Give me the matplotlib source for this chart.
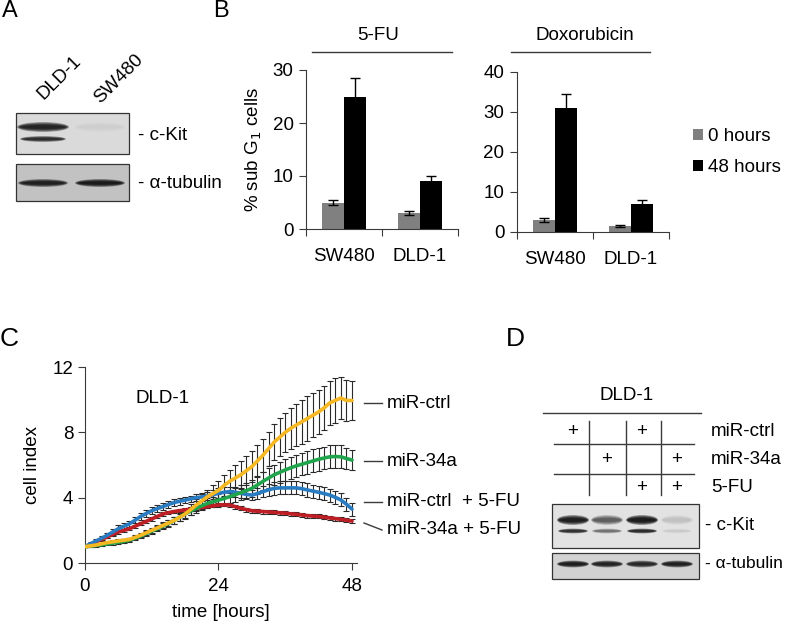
import numpy as np
import matplotlib
matplotlib.use('Agg')
from matplotlib import pyplot as plt
from matplotlib.patches import Rectangle, Ellipse

plt.rcParams['font.family'] = ['Liberation Sans', 'DejaVu Sans']
plt.rcParams['font.size'] = 13.5
FS = 13.5

W, H = 789, 628

## Panel B data (% sub G1 cells)
cells = ['SW480', 'DLD-1']
fu_0h = [5.0, 3.0]
fu_0h_err = [0.5, 0.4]
fu_48h = [25.0, 9.0]
fu_48h_err = [3.5, 1.0]
dox_0h = [3.0, 1.5]
dox_0h_err = [0.5, 0.3]
dox_48h = [31.0, 7.0]
dox_48h_err = [3.5, 1.0]

## Panel C data (cell index, hourly)
hours = list(range(49))
ctrl = [1.0, 1.05, 1.1, 1.18, 1.25, 1.3, 1.35, 1.4, 1.45, 1.57, 1.7, 1.85, 2.0, 2.15, 2.3, 2.45, 2.6,
        2.8, 3.0, 3.27, 3.55, 3.8, 4.05, 4.25, 4.45, 4.75, 5.0, 5.2, 5.4, 5.65, 5.9, 6.25, 6.6, 7.0,
        7.4, 7.7, 8.0, 8.25, 8.45, 8.65, 8.85, 9.05, 9.25, 9.5, 9.8, 9.95, 10.1, 9.95, 9.95]
ctrl_err = [0.05, 0.05, 0.06, 0.07, 0.08, 0.09, 0.1, 0.1, 0.11, 0.12, 0.13, 0.14, 0.15, 0.16, 0.18,
            0.2, 0.22, 0.25, 0.28, 0.32, 0.36, 0.4, 0.45, 0.5, 0.55, 0.62, 0.7, 0.78, 0.85, 0.9, 0.95,
            1.0, 1.0, 1.05, 1.1, 1.15, 1.2, 1.25, 1.3, 1.35, 1.35, 1.35, 1.35, 1.35, 1.35, 1.35, 1.3,
            1.25, 1.2]
mir34 = [1.0, 1.03, 1.07, 1.12, 1.17, 1.22, 1.27, 1.33, 1.4, 1.52, 1.65, 1.8, 1.95, 2.1, 2.25, 2.42,
         2.6, 2.8, 3.0, 3.18, 3.35, 3.5, 3.65, 3.75, 3.85, 3.95, 4.06, 4.18, 4.3, 4.43, 4.57, 4.78, 5.0,
         5.2, 5.4, 5.55, 5.7, 5.83, 5.95, 6.05, 6.15, 6.25, 6.35, 6.43, 6.5, 6.52, 6.5, 6.4, 6.3]
mir34_err = [0.05, 0.06, 0.07, 0.08, 0.09, 0.1, 0.1, 0.11, 0.12, 0.13, 0.14, 0.15, 0.16, 0.17, 0.18,
             0.19, 0.2, 0.21, 0.22, 0.24, 0.26, 0.28, 0.3, 0.32, 0.35, 0.38, 0.4, 0.42, 0.45, 0.48, 0.5,
             0.53, 0.56, 0.59, 0.62, 0.64, 0.65, 0.67, 0.68, 0.69, 0.7, 0.7, 0.7, 0.7, 0.7, 0.7, 0.7,
             0.65, 0.6]
ctrl_fu = [1.0, 1.18, 1.35, 1.52, 1.7, 1.9, 2.1, 2.25, 2.4, 2.62, 2.85, 3.03, 3.2, 3.33, 3.45, 3.58,
           3.7, 3.78, 3.85, 3.93, 4.0, 4.05, 4.1, 4.18, 4.27, 4.33, 4.37, 4.33, 4.27, 4.2, 4.16, 4.25,
           4.37, 4.48, 4.57, 4.6, 4.6, 4.6, 4.6, 4.55, 4.47, 4.4, 4.33, 4.25, 4.16, 4.02, 3.86, 3.6, 3.3]
ctrl_fu_err = [0.05, 0.1, 0.12, 0.14, 0.16, 0.18, 0.2, 0.2, 0.2, 0.2, 0.2, 0.2, 0.2, 0.2, 0.2, 0.2,
               0.2, 0.2, 0.2, 0.2, 0.22, 0.24, 0.26, 0.28, 0.3, 0.3, 0.3, 0.3, 0.3, 0.3, 0.3, 0.32, 0.34,
               0.36, 0.38, 0.4, 0.4, 0.4, 0.4, 0.4, 0.4, 0.4, 0.4, 0.4, 0.4, 0.4, 0.4, 0.4, 0.4]
mir34_fu = [1.0, 1.15, 1.3, 1.45, 1.6, 1.75, 1.9, 2.0, 2.1, 2.25, 2.4, 2.55, 2.7, 2.85, 3.0, 3.08,
            3.15, 3.2, 3.25, 3.3, 3.35, 3.4, 3.45, 3.5, 3.55, 3.56, 3.55, 3.45, 3.35, 3.27, 3.2, 3.17,
            3.15, 3.12, 3.1, 3.07, 3.05, 3.01, 2.98, 2.94, 2.9, 2.87, 2.85, 2.8, 2.76, 2.72, 2.67, 2.62,
            2.57]
mir34_fu_err = [0.05, 0.06, 0.07, 0.08, 0.08, 0.09, 0.1, 0.1, 0.1, 0.1, 0.1, 0.1, 0.1, 0.1, 0.1, 0.1,
                0.1, 0.1, 0.1, 0.1, 0.1, 0.1, 0.1, 0.1, 0.1, 0.1, 0.1, 0.12, 0.12, 0.12, 0.12, 0.12,
                0.12, 0.12, 0.12, 0.12, 0.12, 0.12, 0.12, 0.12, 0.12, 0.12, 0.12, 0.12, 0.12, 0.12,
                0.12, 0.12, 0.12]

## Blot band intensities (0 = none, 1 = black)
a_kit_upper = [0.85, 0.03]
a_kit_lower = [0.75, 0.0]
a_tub = [0.85, 0.9]
d_kit_upper = [0.92, 0.45, 0.95, 0.08]
d_kit_lower = [0.75, 0.35, 0.8, 0.05]
d_tub = [0.9, 0.85, 0.8, 0.88]
d_rows = ['miR-ctrl', 'miR-34a', '5-FU']
d_plus = [[1, 0, 1, 0], [0, 1, 0, 1], [0, 0, 1, 1]]


def box(x0, y0, x1, y1):
    return [x0 / W, 1 - y1 / H, (x1 - x0) / W, (y1 - y0) / H]


fig = plt.figure(figsize=(W / 100, H / 100), dpi=100)
ov = fig.add_axes([0, 0, 1, 1])
ov.set_xlim(0, W)
ov.set_ylim(H, 0)
ov.axis('off')

spine_col = '#3a3a3a'


def band(x, y, w, h, val):
    # soft band: stacked ellipses
    if val <= 0:
        return
    for k in range(6):
        f = 1 - k * 0.13
        ov.add_patch(Ellipse((x, y), w * (0.8 + 0.2 * f), h * f, facecolor='black',
                             edgecolor='none', alpha=val * 0.3, zorder=3))


def blot(x0, y0, x1, y1, bg):
    ov.add_patch(Rectangle((x0, y0), x1 - x0, y1 - y0, facecolor=bg, edgecolor='#333333',
                           lw=0.9, zorder=2))


## ---------- Panel A ----------
ov.text(2, 11, 'A', fontsize=17, va='center', ha='left')
ov.text(44, 100, 'DLD-1', rotation=45, rotation_mode='anchor', ha='left', va='baseline')
ov.text(100, 104, 'SW480', rotation=45, rotation_mode='anchor', ha='left', va='baseline')
blot(16, 113, 129, 154, '#dadada')
lanes_a = [43, 100]
for i, x in enumerate(lanes_a):
    band(x, 127, 52, 10, a_kit_upper[i])
    band(x, 139, 46, 6, a_kit_lower[i])
blot(16, 164, 129, 201, '#c2c2c2')
for i, x in enumerate(lanes_a):
    band(x, 183, 50, 8, a_tub[i])
ov.text(138, 136, '- c-Kit', va='center')
ov.text(138, 184, '- α-tubulin', va='center')

## ---------- Panel B ----------
ov.text(213, 11, 'B', fontsize=17, va='center', ha='left')
ov.text(378, 35, '5-FU', ha='center', va='center')
ov.plot([312, 452], [52, 52], color=spine_col, lw=1)
ov.text(585, 35, 'Doxorubicin', ha='center', va='center')
ov.plot([511, 650], [52, 52], color=spine_col, lw=1)

bw = 0.29
x = np.arange(len(cells))


def bar_panel(rect, top, v0, e0, v48, e48, ticks):
    ax = fig.add_axes(rect)
    ax.set_facecolor('none')
    h0 = ax.bar(x - bw / 2, v0, bw, color='#808080', zorder=2)
    h48 = ax.bar(x + bw / 2, v48, bw, color='black', zorder=2)
    ax.errorbar(x - bw / 2, v0, yerr=e0, fmt='none', ecolor='black', elinewidth=1, capsize=3.5, zorder=3)
    ax.errorbar(x + bw / 2, v48, yerr=e48, fmt='none', ecolor='black', elinewidth=1, capsize=3.5, zorder=1)
    ax.set_xlim(-0.5, 1.5)
    ax.set_ylim(0, top)
    ax.set_yticks(ticks)
    ax.set_xticks([-0.5, 0.5, 1.5])
    ax.set_xticklabels([])
    ax.set_xticks(x, minor=True)
    ax.set_xticklabels(cells, minor=True)
    ax.tick_params(axis='x', which='minor', length=0, pad=14, labelsize=FS)
    ax.tick_params(axis='x', which='major', length=5, color=spine_col)
    ax.tick_params(axis='y', length=5, color=spine_col, labelsize=FS, pad=4)
    for s in ['top', 'right']:
        ax.spines[s].set_visible(False)
    for s in ['left', 'bottom']:
        ax.spines[s].set_color(spine_col)
    return ax, h0, h48


ax1, h0, h48 = bar_panel(box(306, 70, 458, 229), 30, fu_0h, fu_0h_err, fu_48h, fu_48h_err, [0, 10, 20, 30])
ax1.set_ylabel('% sub G$_1$ cells', fontsize=FS, labelpad=6)
ax2, _, _ = bar_panel(box(517, 72, 669, 232), 40, dox_0h, dox_0h_err, dox_48h, dox_48h_err, [0, 10, 20, 30, 40])
fig.legend([h0, h48], ['0 hours', '48 hours'], loc='center left',
           bbox_to_anchor=(693 / W, 1 - 152 / H), frameon=False, fontsize=FS, borderpad=0,
           borderaxespad=0, handlelength=0.55, handleheight=0.55, handletextpad=0.25,
           labelspacing=0.75)

## ---------- Panel C ----------
ov.text(0, 339, 'C', fontsize=19, va='center', ha='left')
axc = fig.add_axes(box(85, 367, 357, 563))
axc.set_facecolor('none')
series = [
    (mir34_fu, mir34_fu_err, '#bf1e24'),
    (ctrl_fu, ctrl_fu_err, '#2a7cc2'),
    (mir34, mir34_err, '#20a44c'),
    (ctrl, ctrl_err, '#f6b822'),
]
for vals, errs, col in series:
    axc.errorbar(hours, vals, yerr=errs, fmt='none', ecolor='#2a2a2a', elinewidth=0.8,
                 capsize=2.2, capthick=0.8, zorder=2)
for z, (vals, errs, col) in enumerate(series):
    axc.plot(hours, vals, color=col, lw=2.6, zorder=3 + z, solid_capstyle='round')
axc.set_xlim(0, 48.9)
axc.set_ylim(0, 12)
axc.set_xticks([0, 24, 48])
axc.set_yticks([0, 4, 8, 12])
axc.tick_params(length=5, color=spine_col, labelsize=FS)
axc.tick_params(axis='x', pad=6)
for s in ['top', 'right']:
    axc.spines[s].set_visible(False)
for s in ['left', 'bottom']:
    axc.spines[s].set_color(spine_col)
axc.set_xlabel('time [hours]', fontsize=FS, labelpad=6)
axc.set_ylabel('cell index', fontsize=FS, labelpad=8)
axc.text(14, 10.1, 'DLD-1', ha='center', va='center', fontsize=FS)

c_labels = [('miR-ctrl', 403, 403), ('miR-34a', 461, 461),
            ('miR-ctrl  + 5-FU', 502, 502), ('miR-34a + 5-FU', 523, 530)]
for txt, ya, yb in c_labels:
    ov.plot([364, 382], [ya, yb], color=spine_col, lw=1)
    ov.text(387, yb, txt, va='center', ha='left')

## ---------- Panel D ----------
ov.text(506, 339, 'D', fontsize=19, va='center', ha='left')
ov.text(627, 395, 'DLD-1', ha='center', va='center')
ov.plot([543, 701], [413, 413], color=spine_col, lw=1)
for yl in [444, 474]:
    ov.plot([554, 694], [yl, yl], color=spine_col, lw=1)
for xl in [589, 626, 661]:
    ov.plot([xl, xl], [421, 495], color=spine_col, lw=1)
cols_d = [573, 607, 642, 677]
rows_y = [432, 460, 487]
for r, name in enumerate(d_rows):
    for c, xc in enumerate(cols_d):
        if d_plus[r][c]:
            ov.text(xc, rows_y[r], '+', ha='center', va='center')
    ov.text(711, rows_y[r], name, ha='left', va='center')

blot(552, 504, 699, 548, '#e2e2e2')
for i, xc in enumerate(cols_d):
    band(xc, 520, 32, 10, d_kit_upper[i])
    band(xc, 531, 30, 5, d_kit_lower[i])
blot(552, 553, 699, 579, '#d2d2d2')
for i, xc in enumerate(cols_d):
    band(xc, 564, 32, 7, d_tub[i])
ov.text(705, 525, '- c-Kit', va='center')
ov.text(705, 564, '- α-tubulin', va='center', fontsize=12.5)

fig.savefig('out.png', dpi=100)
